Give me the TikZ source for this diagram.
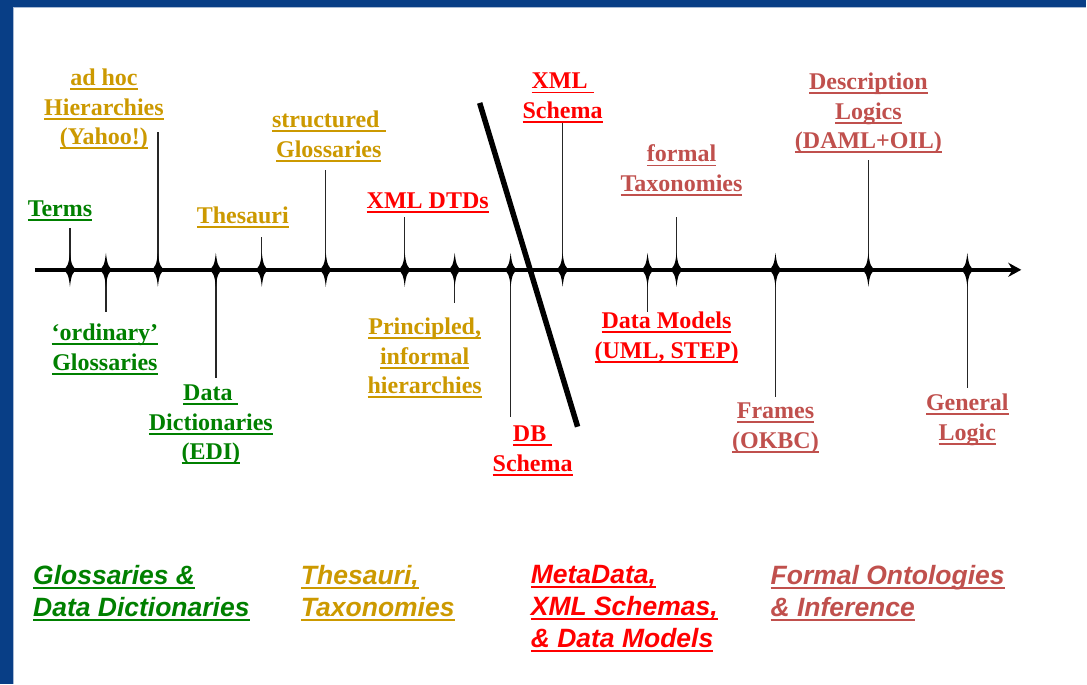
\documentclass[tikz,border=0pt]{standalone}
\usepackage{fontspec}
\setmainfont{Liberation Serif}
\newfontfamily\catfont{Liberation Sans}
\usetikzlibrary{arrows.meta}

\definecolor{glossgreen}{RGB}{0,128,0}
\definecolor{thesgold}{RGB}{204,153,0}
\definecolor{metared}{RGB}{255,0,0}
\definecolor{ontored}{RGB}{192,80,77}
\definecolor{slideblue}{RGB}{8,62,134}

% underlined text, as on the slide
\newsavebox\lnkbox
\newcommand{\lnk}[1]{\sbox\lnkbox{#1}\rlap{\rule[-4.5pt]{\wd\lnkbox}{1.8pt}}\usebox\lnkbox}

\begin{document}
\begin{tikzpicture}[x=1pt,y=-1pt,
    axis/.style={line width=4pt, -{Stealth[length=13pt,width=14pt]}},
    lead/.style={line width=1.3pt, draw=black!85},
    cut/.style={line width=5.5pt},
    lbl/.style={anchor=north, yshift=15pt, align=center, inner sep=0pt,
        font=\fontsize{24}{29.5}\selectfont\bfseries},
    cat/.style={anchor=north west, yshift=17.5pt, align=left, inner sep=0pt,
        font=\fontsize{26.5}{32}\selectfont\catfont\bfseries\itshape}
]

% Slide frame
\fill[slideblue] (0,0) rectangle (1087,684);
\fill[white] (13,7) rectangle (1087,684);
\draw[slideblue!35, line width=1.5pt] (13.5,684) -- (13.5,7.5) -- (1087,7.5);
\useasboundingbox (0,0) rectangle (1087,684);

% Time line
\coordinate (start) at (35,270);
\coordinate (tip) at (1022,270);
\draw[axis] (start) -- (tip);

% Ticks with leaders
\foreach \x/\e [count=\i] in {70/228, 106/312, 158/132, 216/378, 262/237,
    326/170, 405/217, 455/303, 511/417, 563/122, 648/312, 677/217,
    776/397, 869/160, 968/388} {
  \coordinate (t\i) at (\x,270);
  \coordinate (e\i) at (\x,\e);
  \draw[lead] (t\i) -- (e\i);
  \fill[shift={(t\i)}] (0,-17) .. controls (1.2,-5) and (3,-2) .. (7,0)
    .. controls (3,2) and (1.2,5) .. (0,17)
    .. controls (-1.2,5) and (-3,2) .. (-7,0)
    .. controls (-3,-2) and (-1.2,-5) .. (0,-17) -- cycle;
}

% The cut between informal and formal
\coordinate (cuttop) at (480,103);
\coordinate (cutbot) at (578,427);
\draw[cut] (cuttop) -- (cutbot);

% Labels on the line
\node[lbl, glossgreen] (terms) at (60,216) {\lnk{Terms}};
\node[lbl, glossgreen] (ordinary) at (105,339) {\lnk{`ordinary'}\\\lnk{Glossaries}};
\node[lbl, thesgold] (adhoc) at (104,84) {\lnk{ad hoc}\\\lnk{Hierarchies}\\\lnk{(Yahoo!)}};
\node[lbl, glossgreen] (datadict) at (211,400) {\lnk{Data\ }\\\lnk{Dictionaries}\\\lnk{(EDI)}};
\node[lbl, thesgold] (thesauri) at (243,222) {\lnk{Thesauri}};
\node[lbl, thesgold] (structured) at (329,126) {\lnk{structured\ }\\\lnk{Glossaries}};
\node[lbl, metared] (dtds) at (428,208) {\lnk{XML DTDs}};
\node[lbl, thesgold] (principled) at (425,333) {\lnk{Principled,}\\\lnk{informal}\\\lnk{hierarchies}};
\node[lbl, metared] (db) at (533,441) {\lnk{DB\ }\\\lnk{Schema}};
\node[lbl, metared] (xmlschema) at (563,88) {\lnk{XML\ }\\\lnk{Schema}};
\node[lbl, metared] (datamodels) at (667,327) {\lnk{Data Models}\\\lnk{(UML, STEP)}};
\node[lbl, ontored] (formal) at (682,160) {\lnk{formal}\\\lnk{Taxonomies}};
\node[lbl, ontored] (frames) at (776,418) {\lnk{Frames}\\\lnk{(OKBC)}};
\node[lbl, ontored] (dl) at (869,88) {\lnk{Description}\\\lnk{Logics}\\\lnk{(DAML+OIL)}};
\node[lbl, ontored] (general) at (968,409) {\lnk{General}\\\lnk{Logic}};

% Categories
\node[cat, glossgreen] (catgloss) at (33,583) {\lnk{Glossaries \&}\\\lnk{Data Dictionaries}};
\node[cat, thesgold] (catthes) at (301,583) {\lnk{Thesauri,}\\\lnk{Taxonomies}};
\node[cat, metared] (catmeta) at (531,583) {\lnk{MetaData,}\\\lnk{XML Schemas,}\\\lnk{\& Data Models}};
\node[cat, ontored] (catonto) at (771,583) {\lnk{Formal Ontologies}\\\lnk{\& Inference}};

\end{tikzpicture}
\end{document}
